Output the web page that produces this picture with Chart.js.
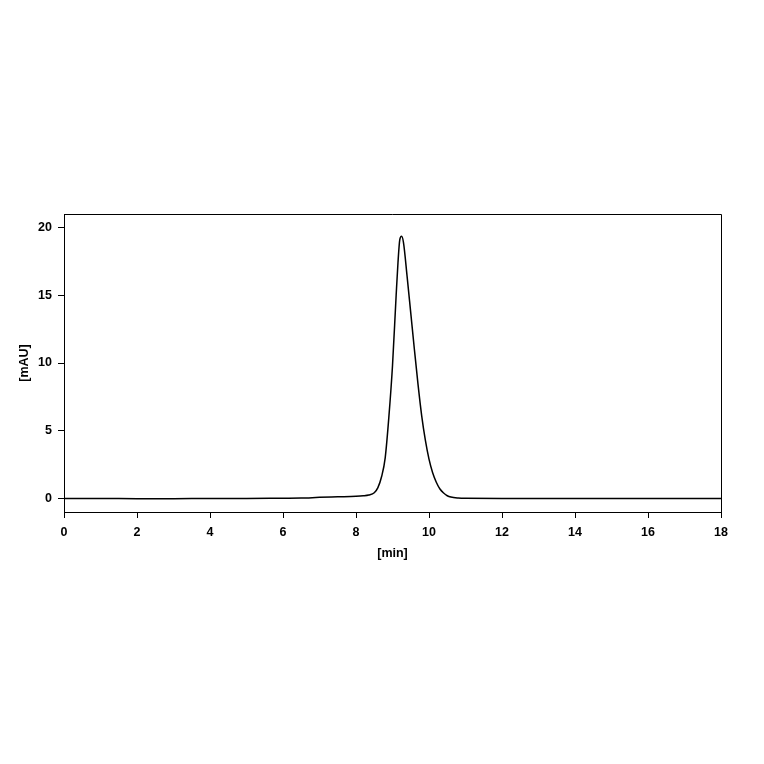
<!DOCTYPE html>
<html>
<head>
<meta charset="utf-8">
<script src="https://cdn.jsdelivr.net/npm/chart.js@4.4.1/dist/chart.umd.min.js"></script>
<style>
  body { margin: 0; background: #fff; }
  #wrap { width: 764px; height: 764px; }
</style>
</head>
<body>
<div id="wrap"><canvas id="chrom"></canvas></div>
<script>
// retention time [min] and absorbance [mAU]
var times = [0, 1, 2, 3, 4, 5, 6, 6.5, 7, 7.5, 8, 8.2, 8.35, 8.5, 8.6, 8.7, 8.8, 8.9, 9.0, 9.1,
             9.15, 9.2, 9.25, 9.3, 9.4, 9.5, 9.6, 9.7, 9.8, 9.9, 10.0, 10.1, 10.2, 10.3, 10.4,
             10.5, 10.6, 10.8, 11, 12, 14, 16, 18];
var absorbance = [0, 0, -0.02, -0.02, 0, 0, 0.02, 0.03, 0.08, 0.12, 0.16, 0.2, 0.26, 0.42, 0.8, 1.6,
                  3.0, 6.0, 9.8, 15.0, 17.4, 19.1, 19.35, 18.9, 16.4, 13.7, 11.0, 8.4, 6.1, 4.3,
                  2.9, 1.9, 1.2, 0.7, 0.4, 0.2, 0.1, 0.03, 0.01, 0, 0, 0, 0];
var xTicks = [0, 2, 4, 6, 8, 10, 12, 14, 16, 18];
var yTicks = [0, 5, 10, 15, 20];

var points = times.map(function (t, i) {
    return { x: t, y: absorbance[i] };
});

var tickFont = { family: "'Liberation Sans', Arial, sans-serif", size: 12.5, weight: "bold" };

// top and right edges of the frame
var framePlugin = {
    id: "frame",
    afterDraw: function (chart) {
        let a = chart.chartArea;
        let ctx = chart.ctx;
        ctx.save();
        ctx.strokeStyle = "#000";
        ctx.lineWidth = 1;
        ctx.beginPath();
        ctx.moveTo(a.left, a.top + 0.5);
        ctx.lineTo(a.right + 0.5, a.top + 0.5);
        ctx.lineTo(a.right + 0.5, a.bottom);
        ctx.stroke();
        ctx.restore();
    }
};

new Chart(document.getElementById("chrom"), {
    type: "line",
    data: {
        datasets: [
            {
                data: points,
                borderColor: "#000",
                borderWidth: 1.5,
                pointRadius: 0,
                fill: false,
                cubicInterpolationMode: "monotone"
            }
        ]
    },
    options: {
        responsive: true,
        maintainAspectRatio: false,
        animation: false,
        layout: { padding: { top: 214, right: 43, left: 14, bottom: 202 } },
        plugins: { legend: { display: false }, tooltip: { enabled: false } },
        scales: {
            x: {
                type: "linear",
                min: 0,
                max: 18,
                afterFit: function (s) { s.height = 50; },
                afterBuildTicks: function (s) {
                    s.ticks = xTicks.map(function (v) { return { value: v }; });
                },
                grid: { drawOnChartArea: false, tickLength: 6, color: "#000" },
                border: { color: "#000", width: 1 },
                ticks: { color: "#000", font: tickFont, padding: 7, maxRotation: 0 },
                title: { display: true, text: "[min]", color: "#000", font: tickFont, padding: 1 }
            },
            y: {
                min: -1,
                max: 21,
                afterFit: function (s) { s.width = 50; },
                afterBuildTicks: function (s) {
                    s.ticks = yTicks.map(function (v) { return { value: v }; });
                },
                grid: { drawOnChartArea: false, tickLength: 6, color: "#000" },
                border: { color: "#000", width: 1 },
                ticks: { color: "#000", font: tickFont, padding: 6 },
                title: { display: true, text: "[mAU]", color: "#000", font: tickFont, padding: 3 }
            }
        }
    },
    plugins: [framePlugin]
});
</script>
</body>
</html>
